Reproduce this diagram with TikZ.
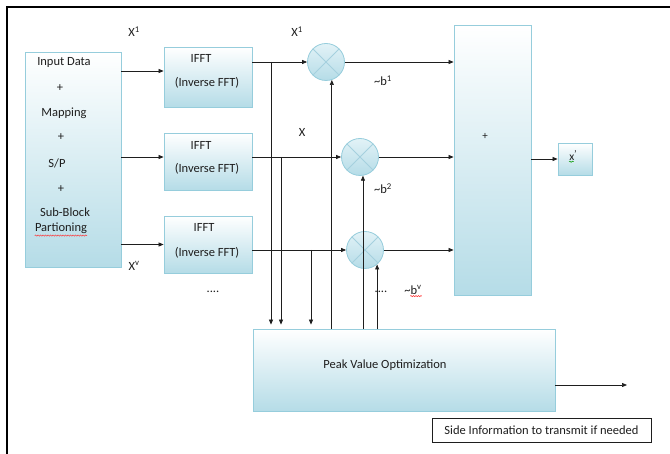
\documentclass[tikz,border=0pt]{standalone}
\usepackage{fontspec}
\setmainfont{Carlito}
\usetikzlibrary{arrows.meta,shadows,decorations.pathmorphing}
\definecolor{boxbot}{RGB}{181,220,231}
\definecolor{boxedge}{RGB}{150,205,220}
\definecolor{circtop}{RGB}{226,242,247}
\definecolor{crossc}{RGB}{165,208,222}
\definecolor{ink}{RGB}{30,30,30}
\begin{document}
\begin{tikzpicture}[x=1pt,y=-1pt,
  blk/.style={draw=boxedge,line width=0.8pt,top color=white,bottom color=boxbot,inner sep=0pt,
    drop shadow={shadow xshift=1.2pt,shadow yshift=-1.2pt,fill=black!30,opacity=0.5}},
  mult/.style={circle,draw=boxedge,line width=0.8pt,top color=circtop,bottom color=boxbot,minimum size=37pt,inner sep=0pt},
  arr/.style={-{Triangle[length=5pt,width=4pt]},line width=0.7pt,draw=ink},
  txt/.style={font=\fontsize{12.5}{14}\selectfont,text=ink,inner sep=0pt},
  lbl/.style={font=\fontsize{12.5}{14}\selectfont,text=ink,inner sep=0pt},
  squig/.style={decorate,decoration={snake,amplitude=0.6pt,segment length=2.5pt},line width=0.5pt},
  sidebox/.style={draw=ink,line width=0.6pt,fill=white,inner sep=0pt,minimum width=219pt,minimum height=24pt,font=\fontsize{12.5}{14}\selectfont,text=ink}]
\useasboundingbox (0,0) rectangle (670,454);
\fill[white] (0,0) rectangle (670,454);
% frame
\draw[line width=2.5pt,black] (7,454) -- (7,7) -- (670,7);

% boxes
\node[blk,minimum width=96pt,minimum height=215pt] (inp) at (73,159.5) {};
\node[blk,minimum width=88pt,minimum height=60pt] (f1) at (208,77) {};
\node[blk,minimum width=88pt,minimum height=57pt] (f2) at (208,161.5) {};
\node[blk,minimum width=88pt,minimum height=57pt] (f3) at (208,244.5) {};
\node[blk,minimum width=77pt,minimum height=270pt] (sum) at (492.5,160) {};
\node[blk,minimum width=34pt,minimum height=32pt] (xo) at (575,159) {};
\node[blk,minimum width=302pt,minimum height=82pt] (peak) at (404,370) {};
\node[sidebox] (side) at (541.5,430) {Side Information to transmit if needed};

% multipliers
\node[mult] (m1) at (326,62) {};
\node[mult] (m2) at (360,157) {};
\node[mult] (m3) at (365,250) {};
\foreach \m in {m1,m2,m3}{
  \draw[crossc,line width=0.9pt] (\m.45) -- (\m.225) (\m.135) -- (\m.-45);
}

% texts in input box
\node[txt] (t1) at (64,63) {Input Data};
\node[txt] (t2) at (60,88) {+};
\node[txt] (t3) at (64,113) {Mapping};
\node[txt] (t4) at (61,137) {+};
\node[txt] (t5) at (57,163) {S/P};
\node[txt] (t6) at (61,189) {+};
\node[txt] (t7) at (65,212) {Sub-Block};
\node[txt] (t8) at (61,228) {Partioning};
\draw[squig,red!80] ([yshift=-2pt]t8.south west) -- ([yshift=-2pt]t8.south east);

% texts in IFFT boxes
\node[txt] (i1a) at (201,58) {IFFT};
\node[txt] (i1b) at (207,83) {(Inverse FFT)};
\node[txt] (i2a) at (201,145) {IFFT};
\node[txt] (i2b) at (207,169) {(Inverse FFT)};
\node[txt] (i3a) at (204,227) {IFFT};
\node[txt] (i3b) at (207,253) {(Inverse FFT)};
\node[lbl] (d1) at (213,292) {....};

% other labels
\node[lbl] (lx1) at (134,32) {X\textsuperscript{1}};
\node[lbl] (lxv) at (134,266) {X\textsuperscript{v}};
\node[lbl] (lx2) at (297,32) {X\textsuperscript{1}};
\node[lbl] (lx3) at (302,132) {X};
\node[lbl] (lb1) at (383,81) {\textasciitilde b\textsuperscript{1}};
\node[lbl] (lb2) at (383,189) {\textasciitilde b\textsuperscript{2}};
\node[lbl] (d2) at (381,292) {....};
\node[lbl] (lbv) at (413,290) {\textasciitilde b\textsuperscript{v}};
\draw[squig,red!80] ([xshift=6pt,yshift=-1.5pt]lbv.south west) -- ([yshift=-1.5pt]lbv.south east);
\node[txt,font=\fontsize{11}{12}\selectfont] (plus) at (485,136) {+};
\node[lbl,font=\fontsize{11.5}{12}\selectfont] (lxo) at (573,155) {x\raisebox{3pt}{\fontsize{10}{10}\selectfont\char"2019}};
\draw[squig,green!60!black] ([yshift=-1.5pt]lxo.south west) -- ([xshift=-3pt,yshift=-1.5pt]lxo.south east);
\node[txt] (pt) at (385,365) {Peak Value Optimization};

% input -> IFFT
\draw[arr] ([yshift=6pt]f1.west -| inp.east) -- ([yshift=6pt]f1.west);
\draw[arr] ([yshift=4.5pt]f2.west -| inp.east) -- ([yshift=4.5pt]f2.west);
\draw[arr] (f3.west -| inp.east) -- (f3.west);

% IFFT -> multipliers
\draw[arr] (m1.west -| f1.east) -- (m1.west);
\draw[arr] (m2.west -| f2.east) -- (m2.west);
\draw[arr] (m3.west -| f3.east) -- (m3.west);

% multipliers -> sum
\draw[arr] (m1.east) -- (m1.east -| sum.west);
\draw[arr] (m2.east) -- (m2.east -| sum.west);
\draw[arr] (m3.east) -- (m3.east -| sum.west);

% sum -> x'
\draw[arr] (xo.west -| sum.east) -- (xo.west);

% taps down to peak
\coordinate (j1) at (271,62);
\coordinate (j2) at (281,157);
\coordinate (j3) at (311,250);
\draw[arr,shorten >=4pt] (j1) -- (j1 |- peak.north);
\draw[arr,shorten >=4pt] (j2) -- (j2 |- peak.north);
\draw[arr,shorten >=4pt] (j3) -- (j3 |- peak.north);

% peak -> multipliers
\draw[arr] (m1.-72 |- peak.north) -- (m1.-72);
\draw[arr] (m2.-81 |- peak.north) -- (m2.-81);
\draw[arr] (m3.-50 |- peak.north) -- (m3.-50);

% peak output
\coordinate (out) at (627,385);
\draw[arr] (out -| peak.east) -- (out);
\end{tikzpicture}
\end{document}
